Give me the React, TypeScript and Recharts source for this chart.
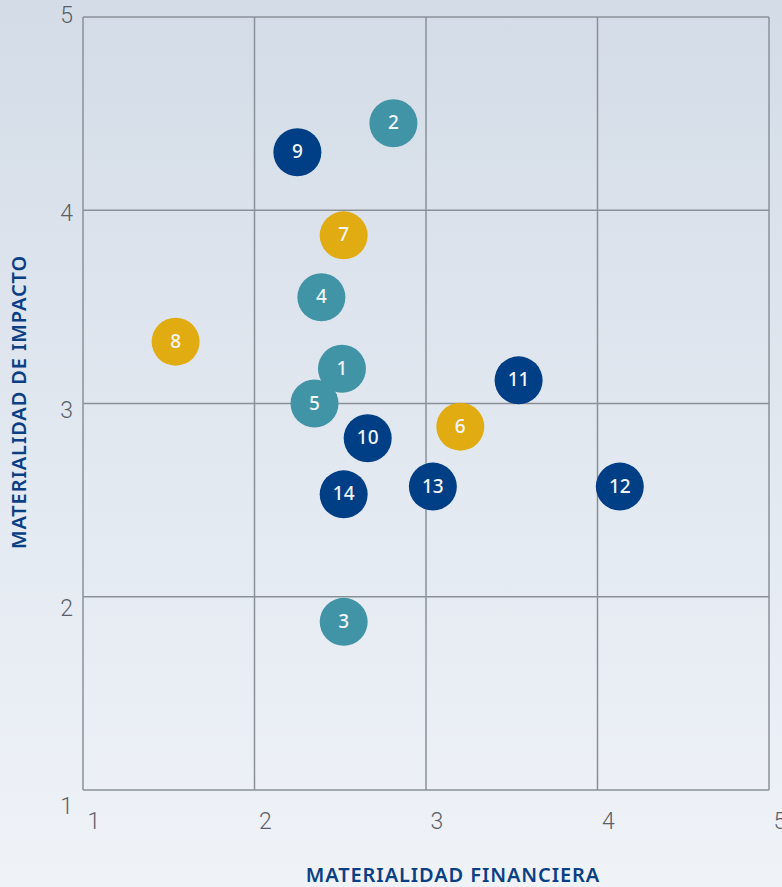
import React from 'react';
import { ScatterChart, Scatter, XAxis, YAxis, CartesianGrid } from 'recharts';

// temas materiales
const temas = ['1', '2', '3', '4', '5', '6', '7', '8', '9', '10', '11', '12', '13', '14'];
const financiera = [2.51, 2.81, 2.52, 2.39, 2.35, 3.2, 2.52, 1.54, 2.25, 2.66, 3.54, 4.13, 3.04, 2.52];
const impacto = [3.18, 4.45, 1.87, 3.55, 3.0, 2.88, 3.87, 3.32, 4.3, 2.82, 3.12, 2.57, 2.57, 2.53];
const grupo = ['a', 'a', 'a', 'a', 'a', 'c', 'c', 'c', 'b', 'b', 'b', 'b', 'b', 'b'];
const ticks = [1, 2, 3, 4, 5];

const colores: Record<string, string> = {
  a: '#4094a5',
  b: '#003e86',
  c: '#e0ac12',
};

const puntos = temas.map((t, i) => ({ id: t, x: financiera[i], y: impacto[i], g: grupo[i] }));

const Burbuja = (props: any) => {
  const { cx, cy, fill, payload } = props;
  return (
    <g>
      <circle cx={cx} cy={cy} r={24} fill={fill} />
      <text
        x={cx}
        y={cy + 1}
        textAnchor="middle"
        dominantBaseline="middle"
        fill="#f2f5f9"
        fontSize={19}
        fontWeight={500}
        fontFamily="'Noto Sans', sans-serif"
      >
        {payload.id}
      </text>
    </g>
  );
};

const TickX = (props: any) => {
  const { x, payload } = props;
  return (
    <text x={x + 11} y={823} textAnchor="middle" dominantBaseline="middle" fill="#5b6068" fontSize={23} fontWeight={300} fontFamily="Roboto, sans-serif">
      {payload.value}
    </text>
  );
};

const TickY = (props: any) => {
  const { y, payload } = props;
  const extra = (5 - payload.value) * 4.4;
  return (
    <text x={73} y={y + extra} textAnchor="end" dominantBaseline="middle" fill="#5b6068" fontSize={23} fontWeight={300} fontFamily="Roboto, sans-serif">
      {payload.value}
    </text>
  );
};

export default function App() {
  const titulo: React.CSSProperties = {
    position: 'absolute',
    color: '#0b3f84',
    fontFamily: "'Noto Sans', sans-serif",
    fontSize: 20,
    fontWeight: 600,
    whiteSpace: 'nowrap',
    letterSpacing: 0.9,
  };
  return (
    <div
      style={{
        position: 'absolute',
        left: 0,
        top: 0,
        width: 782,
        height: 887,
        background: 'linear-gradient(180deg, #d3dce7 0%, #e2e8f0 50%, #eff3f8 100%)',
        overflow: 'hidden',
      }}
    >
      <ScatterChart width={782} height={887} margin={{ top: 17, right: 13, left: 0, bottom: 0 }}>
        <CartesianGrid stroke="#8a9098" strokeWidth={1.5} />
        <XAxis
          type="number"
          dataKey="x"
          domain={[1, 5]}
          ticks={ticks}
          height={97}
          axisLine={false}
          tickLine={false}
          tick={<TickX />}
          interval={0}
        />
        <YAxis
          type="number"
          dataKey="y"
          domain={[1, 5]}
          ticks={ticks}
          width={83}
          axisLine={false}
          tickLine={false}
          tick={<TickY />}
          interval={0}
        />
        {['a', 'c', 'b'].map((g) => (
          <Scatter
            key={g}
            data={puntos.filter((p) => p.g === g)}
            fill={colores[g]}
            shape={<Burbuja />}
            isAnimationActive={false}
          />
        ))}
      </ScatterChart>
      <div style={{ ...titulo, left: 453, top: 874, transform: 'translate(-50%, -50%)' }}>
        MATERIALIDAD FINANCIERA
      </div>
      <div style={{ ...titulo, left: 18, top: 402, transform: 'translate(-50%, -50%) rotate(-90deg)' }}>
        MATERIALIDAD DE IMPACTO
      </div>
    </div>
  );
}
